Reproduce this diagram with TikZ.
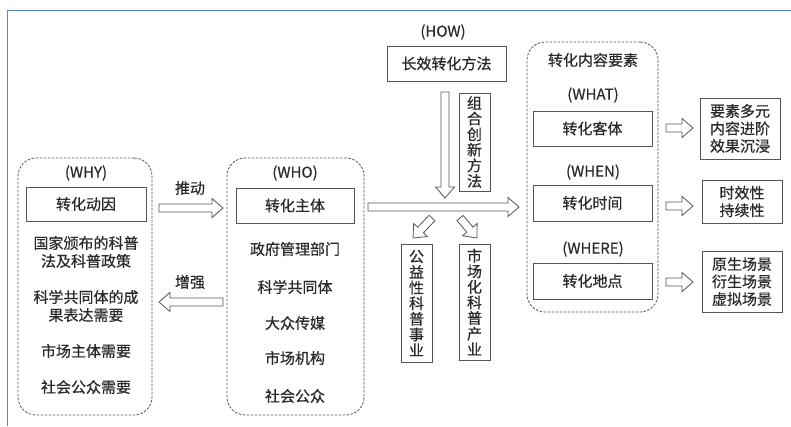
\documentclass[tikz,border=0pt]{standalone}
\usepackage{fontspec}
\setmainfont{Noto Sans CJK SC}[FakeBold=0.5]
\usetikzlibrary{calc}
\definecolor{txt}{HTML}{2A2A2A}
\definecolor{ln}{HTML}{555555}
\definecolor{framec}{HTML}{5B87C5}
\newcommand\blockarrow[2]{%
  \coordinate (bahead) at ($(#2)!11pt!(#1)$);
  \draw[ln, line width=0.8pt, fill=white, line join=miter]
    ($(#1)!4pt!90:(#2)$) -- ($(bahead)!4pt!90:(#2)$) -- ($(bahead)!9.5pt!90:(#2)$)
    -- (#2) -- ($(bahead)!9.5pt!-90:(#2)$) -- ($(bahead)!4pt!-90:(#2)$)
    -- ($(#1)!4pt!-90:(#2)$) -- cycle;}
\begin{document}
\begin{tikzpicture}[x=1pt,y=-1pt, font=\fontsize{15}{18}\selectfont, text=txt,
  box/.style={draw=ln, line width=0.8pt, inner sep=0pt, align=center},
  grp/.style={draw=ln, line width=0.8pt, dash pattern=on 2.5pt off 1.5pt, rounded corners=18pt, inner sep=0pt},
  lbl/.style={inner sep=0pt, align=center},
  vert/.style={box, font=\fontsize{15}{15.6}\selectfont},
  three/.style={box, font=\fontsize{15}{17.5}\selectfont}]
\useasboundingbox (0,0) rectangle (791,426);
\fill[white] (0,0) rectangle (791,426);
\draw[framec, line width=1.5pt] (7.5,426) -- (7.5,10.5) -- (791,10.5);

% WHY group
\node[grp, minimum width=134pt, minimum height=257pt] (whyg) at (85,286.5) {};
\node[lbl] (why) at (86,173) {(WHY)};
\node[box, minimum width=120pt, minimum height=34pt] (dongyin) at (86,204) {转化动因};
\node[lbl] (w1) at (86,252) {国家颁布的科普\\法及科普政策};
\node[lbl] (w2) at (86,306) {科学共同体的成\\果表达需要};
\node[lbl] (w3) at (86,351) {市场主体需要};
\node[lbl] (w4) at (86,387) {社会公众需要};

% WHO group
\node[grp, minimum width=137pt, minimum height=257pt] (whog) at (295.5,286.5) {};
\node[lbl] (who) at (295,173) {(WHO)};
\node[box, minimum width=118pt, minimum height=35pt] (zhuti) at (295,205.5) {转化主体};
\node[lbl] (o1) at (295,249) {政府管理部门};
\node[lbl] (o2) at (295,287) {科学共同体};
\node[lbl] (o3) at (295,323) {大众传媒};
\node[lbl] (o4) at (295,358) {市场机构};
\node[lbl] (o5) at (295,396) {社会公众};

% arrows between WHY and WHO
\node[lbl] (tuidong) at (190,188) {推动};
\coordinate (ta) at (159,208); \coordinate (tb) at (223,208);
\blockarrow{ta}{tb}
\node[lbl] (zengqiang) at (190,282) {增强};
\coordinate (za) at (223,302); \coordinate (zb) at (159,302);
\blockarrow{za}{zb}

% HOW
\node[lbl] (how) at (443,32) {(HOW)};
\node[box, minimum width=119pt, minimum height=35pt] (fangfa) at (446.5,63.5) {长效转化方法};
\coordinate (da) at (445,92); \coordinate (db) at (445,198);
\blockarrow{da}{db}
\node[vert, minimum width=31pt, minimum height=98pt] (zuhe) at (474.5,142) {组\\合\\创\\新\\方\\法};
\coordinate (ha) at (368,207); \coordinate (hb) at (519,207);
\blockarrow{ha}{hb}
\coordinate (g1a) at (432,218); \coordinate (g1b) at (413,238);
\blockarrow{g1a}{g1b}
\coordinate (g2a) at (460,218); \coordinate (g2b) at (477,238);
\blockarrow{g2a}{g2b}
\node[vert, minimum width=31pt, minimum height=118pt] (gongyi) at (416.5,303) {公\\益\\性\\科\\普\\事\\业};
\node[vert, minimum width=31pt, minimum height=116pt] (shichang) at (474.5,302) {市\\场\\化\\科\\普\\产\\业};

% content group
\node[grp, minimum width=131pt, minimum height=270pt] (contg) at (592.5,177) {};
\node[lbl] (ctitle) at (593,60) {转化内容要素};
\node[lbl] (what) at (593,95) {(WHAT)};
\node[box, minimum width=119pt, minimum height=35pt] (keti) at (592.5,128.5) {转化客体};
\node[lbl] (when) at (593,172) {(WHEN)};
\node[box, minimum width=119pt, minimum height=36pt] (shijian) at (592.5,203) {转化时间};
\node[lbl] (where) at (593,249) {(WHERE)};
\node[box, minimum width=119pt, minimum height=36pt] (didian) at (592.5,281) {转化地点};

\coordinate (r1a) at (666,128); \coordinate (r1b) at (693,128);
\blockarrow{r1a}{r1b}
\coordinate (r2a) at (666,206); \coordinate (r2b) at (693,206);
\blockarrow{r2a}{r2b}
\coordinate (r3a) at (666,282); \coordinate (r3b) at (693,282);
\blockarrow{r3a}{r3b}

\node[three, minimum width=80pt, minimum height=61pt] (res1) at (740,128.5) {要素多元\\内容进阶\\效果沉浸};
\node[three, minimum width=80pt, minimum height=43pt] (res2) at (742,201.5) {时效性\\持续性};
\node[three, minimum width=80pt, minimum height=61pt] (res3) at (742,281.5) {原生场景\\衍生场景\\虚拟场景};
\end{tikzpicture}
\end{document}
